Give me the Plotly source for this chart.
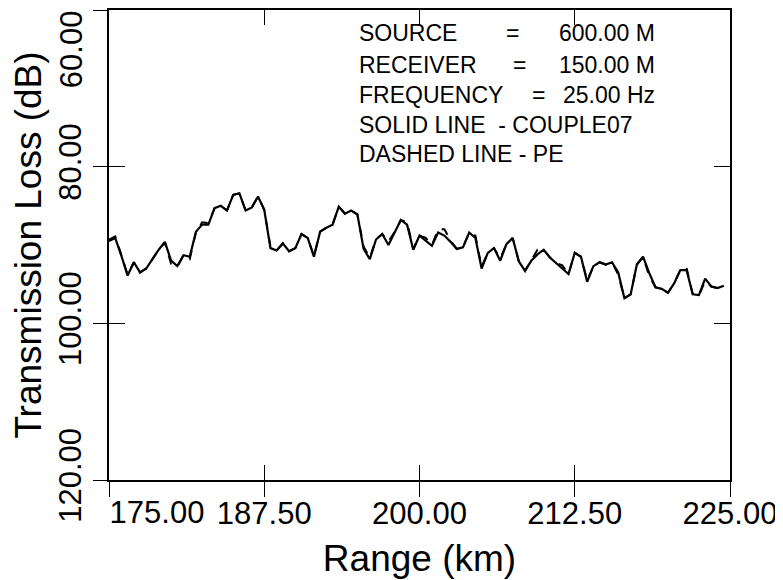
import plotly.graph_objects as go

# ---- data ----
range_km = [
    175.0, 175.5, 176.0, 176.5, 177.0, 177.5, 178.0, 178.5, 179.0, 179.5,
    180.0, 180.5, 181.0, 181.5, 182.0, 182.5, 183.0, 183.5, 184.0, 184.5,
    185.0, 185.5, 186.0, 186.5, 187.0, 187.5, 188.0, 188.5, 189.0, 189.5,
    190.0, 190.5, 191.0, 191.5, 192.0, 192.5, 193.0, 193.5, 194.0, 194.5,
    195.0, 195.5, 196.0, 196.5, 197.0, 197.5, 198.0, 198.5, 199.0, 199.5,
    200.0, 200.5, 201.0, 201.5, 202.0, 202.5, 203.0, 203.5, 204.0, 204.5,
    205.0, 205.5, 206.0, 206.5, 207.0, 207.5, 208.0, 208.5, 209.0, 209.5,
    210.0, 210.5, 211.0, 211.5, 212.0, 212.5, 213.0, 213.5, 214.0, 214.5,
    215.0, 215.5, 216.0, 216.5, 217.0, 217.5, 218.0, 218.5, 219.0, 219.5,
    220.0, 220.5, 221.0, 221.5, 222.0, 222.5, 223.0, 223.5, 224.0, 224.5,
]

tl_couple07 = [
    89.5, 89.1, 91.4, 93.9, 92.2, 93.5, 93.0, 91.8, 90.6, 89.6,
    92.0, 92.7, 91.3, 91.5, 88.3, 87.4, 87.4, 85.3, 85.0, 85.6,
    83.6, 83.4, 85.6, 85.2, 83.8, 85.5, 90.4, 90.7, 89.8, 90.8,
    90.4, 88.6, 89.1, 91.5, 88.3, 87.8, 87.4, 85.1, 86.0, 85.6,
    86.1, 90.5, 91.8, 89.3, 88.6, 90.0, 88.3, 86.8, 87.4, 90.6,
    88.8, 89.4, 90.1, 88.4, 88.8, 89.6, 90.5, 90.3, 88.4, 89.1,
    93.0, 91.0, 90.4, 92.0, 89.9, 89.1, 92.1, 93.3, 92.0, 91.2,
    90.6, 91.6, 92.3, 93.0, 93.7, 91.0, 91.5, 94.7, 92.7, 92.2,
    92.5, 92.2, 93.5, 96.8, 96.3, 92.5, 91.5, 93.6, 95.4, 95.6,
    96.1, 94.9, 93.2, 93.2, 96.3, 96.4, 94.3, 95.3, 95.5, 95.2,
]

tl_pe = [
    89.3, 88.9, 91.3, 93.8, 92.2, 93.5, 93.0, 91.8, 90.6, 89.7,
    92.4, 92.8, 91.3, 91.8, 88.4, 87.1, 87.2, 85.3, 85.0, 85.6,
    83.6, 83.4, 85.6, 85.2, 83.8, 85.5, 90.2, 90.7, 89.8, 90.8,
    90.4, 88.6, 89.1, 91.4, 88.3, 87.8, 87.4, 85.1, 86.0, 85.6,
    86.1, 90.2, 91.6, 89.3, 88.6, 89.6, 88.3, 86.8, 87.1, 90.5,
    88.8, 89.1, 90.0, 88.0, 88.0, 89.4, 90.5, 90.3, 88.4, 88.8,
    92.8, 91.0, 90.4, 91.7, 89.9, 89.1, 92.1, 93.3, 92.0, 90.6,
    90.6, 91.6, 92.3, 92.6, 93.7, 91.0, 91.5, 94.5, 92.7, 92.2,
    92.5, 92.2, 93.8, 96.8, 96.3, 92.5, 91.5, 94.0, 95.4, 95.6,
    96.1, 94.9, 93.2, 92.9, 96.3, 96.4, 94.6, 95.3, 95.5, 95.2,
]

x_ticks = [175.0, 187.5, 200.0, 212.5, 225.0]
x_ticktext = ["175.00", "187.50", "200.00", "212.50", "225.00"]
y_ticks = [60, 80, 100, 120]
y_ticktext = ["60.00", "80.00", "100.00", "120.00"]

info_labels = ["SOURCE", "RECEIVER", "FREQUENCY"]
info_values = ["600.00 M", "150.00 M", "25.00 Hz"]
legend_lines = ["SOLID LINE  - COUPLE07", "DASHED LINE - PE"]

# ---- figure ----
# the page body has an 8px margin, so the figure is drawn at (8, 8)
FONT = "Liberation Sans, Arial, sans-serif"
OFF = 8
W, H = 783 - OFF, 580 - OFF
PL, PR, PT, PB = 109, 730, 8, 480          # plot area in page pixels
L, T = PL - OFF, PT - OFF
R, B = W - (PR - OFF), H - (PB - OFF)
PW, PH = PR - PL, PB - PT


def xp(px):
    return (px - PL) / PW


def yp(py):
    return (PB - py) / PH


fig = go.Figure()
fig.add_trace(go.Scatter(x=range_km, y=tl_pe, mode="lines",
                         line=dict(color="black", width=2, dash="dash"),
                         name="PE", showlegend=False))
fig.add_trace(go.Scatter(x=range_km, y=tl_couple07, mode="lines",
                         line=dict(color="black", width=2.2),
                         name="COUPLE07", showlegend=False))
# empty traces so the overlay axes (extra ticks / shifted labels) are drawn
fig.add_trace(go.Scatter(x=[None], y=[None], xaxis="x2", yaxis="y2",
                         showlegend=False, hoverinfo="skip"))
fig.add_trace(go.Scatter(x=[None], y=[None], xaxis="x3", yaxis="y3",
                         showlegend=False, hoverinfo="skip"))

xr = [175, 225]
yr = [120, 60]
tickfont = dict(family=FONT, size=31, color="black")

common_x = dict(range=xr, tickvals=x_ticks, showgrid=False, zeroline=False,
                showline=True, linecolor="black", linewidth=1.5,
                tickcolor="black", tickwidth=1)
common_y = dict(range=yr, tickvals=y_ticks, showgrid=False, zeroline=False,
                showline=True, linecolor="black", linewidth=1.5,
                tickcolor="black", tickwidth=1)

fig.update_layout(
    width=W, height=H,
    margin=dict(l=L, r=R, t=T, b=B, pad=0),
    paper_bgcolor="white", plot_bgcolor="white",
    font=dict(family=FONT, color="black"),
    showlegend=False,
    xaxis=dict(**common_x, side="bottom", mirror=True, ticks="outside", ticklen=15,
               ticktext=[""] + x_ticktext[1:], tickfont=tickfont,
               ticklabelstandoff=-10,
               title=dict(text="Range (km)", font=dict(family=FONT, size=37, color="black"),
                          standoff=15)),
    xaxis2=dict(**common_x, overlaying="x", anchor="y", side="bottom",
                ticks="inside", ticklen=15, mirror="ticks", showticklabels=False),
    xaxis3=dict(range=xr, tickvals=[x_ticks[0]], ticktext=[x_ticktext[0]],
                overlaying="x", anchor="y", side="bottom", ticks="outside",
                ticklen=15, tickcolor="rgba(0,0,0,0)", showgrid=False,
                zeroline=False, showline=False, tickfont=tickfont,
                ticklabelstandoff=-10, ticklabelshift=48),
    yaxis=dict(**common_y, side="left", mirror=True, ticks="outside", ticklen=14,
               ticktext=[""] + y_ticktext[1:], tickfont=tickfont, tickangle=-90,
               title=dict(text="Transmission Loss (dB)",
                          font=dict(family=FONT, size=37, color="black"),
                          standoff=4)),
    yaxis2=dict(**common_y, overlaying="y", anchor="x", side="left",
                ticks="inside", ticklen=16, mirror="ticks", showticklabels=False),
    yaxis3=dict(range=yr, tickvals=[y_ticks[0]], ticktext=[y_ticktext[0]],
                overlaying="y", anchor="x", side="left", ticks="outside",
                ticklen=14, tickcolor="rgba(0,0,0,0)", showgrid=False,
                zeroline=False, showline=False, tickfont=tickfont, tickangle=-90,
                ticklabelshift=-44),
)

ann_font = dict(family=FONT, size=23, color="black")
row_y = [31, 63, 93, 123, 153]
eq_x = [512, 519, 538]
anns = []
for i, lab in enumerate(info_labels):
    anns.append(dict(x=xp(357), y=yp(row_y[i]), xref="paper", yref="paper",
                     text=lab, showarrow=False, xanchor="left", yanchor="middle",
                     font=ann_font))
    anns.append(dict(x=xp(eq_x[i]), y=yp(row_y[i]), xref="paper", yref="paper",
                     text="=", showarrow=False, xanchor="center", yanchor="middle",
                     font=ann_font))
    anns.append(dict(x=xp(657), y=yp(row_y[i]), xref="paper", yref="paper",
                     text=info_values[i], showarrow=False, xanchor="right",
                     yanchor="middle", font=ann_font))
for j, txt in enumerate(legend_lines):
    anns.append(dict(x=xp(357), y=yp(row_y[3 + j]), xref="paper", yref="paper",
                     text=txt.replace(" ", "&nbsp;"), showarrow=False,
                     xanchor="left", yanchor="middle", font=ann_font))
fig.update_layout(annotations=anns)

fig.write_html("out.html")
